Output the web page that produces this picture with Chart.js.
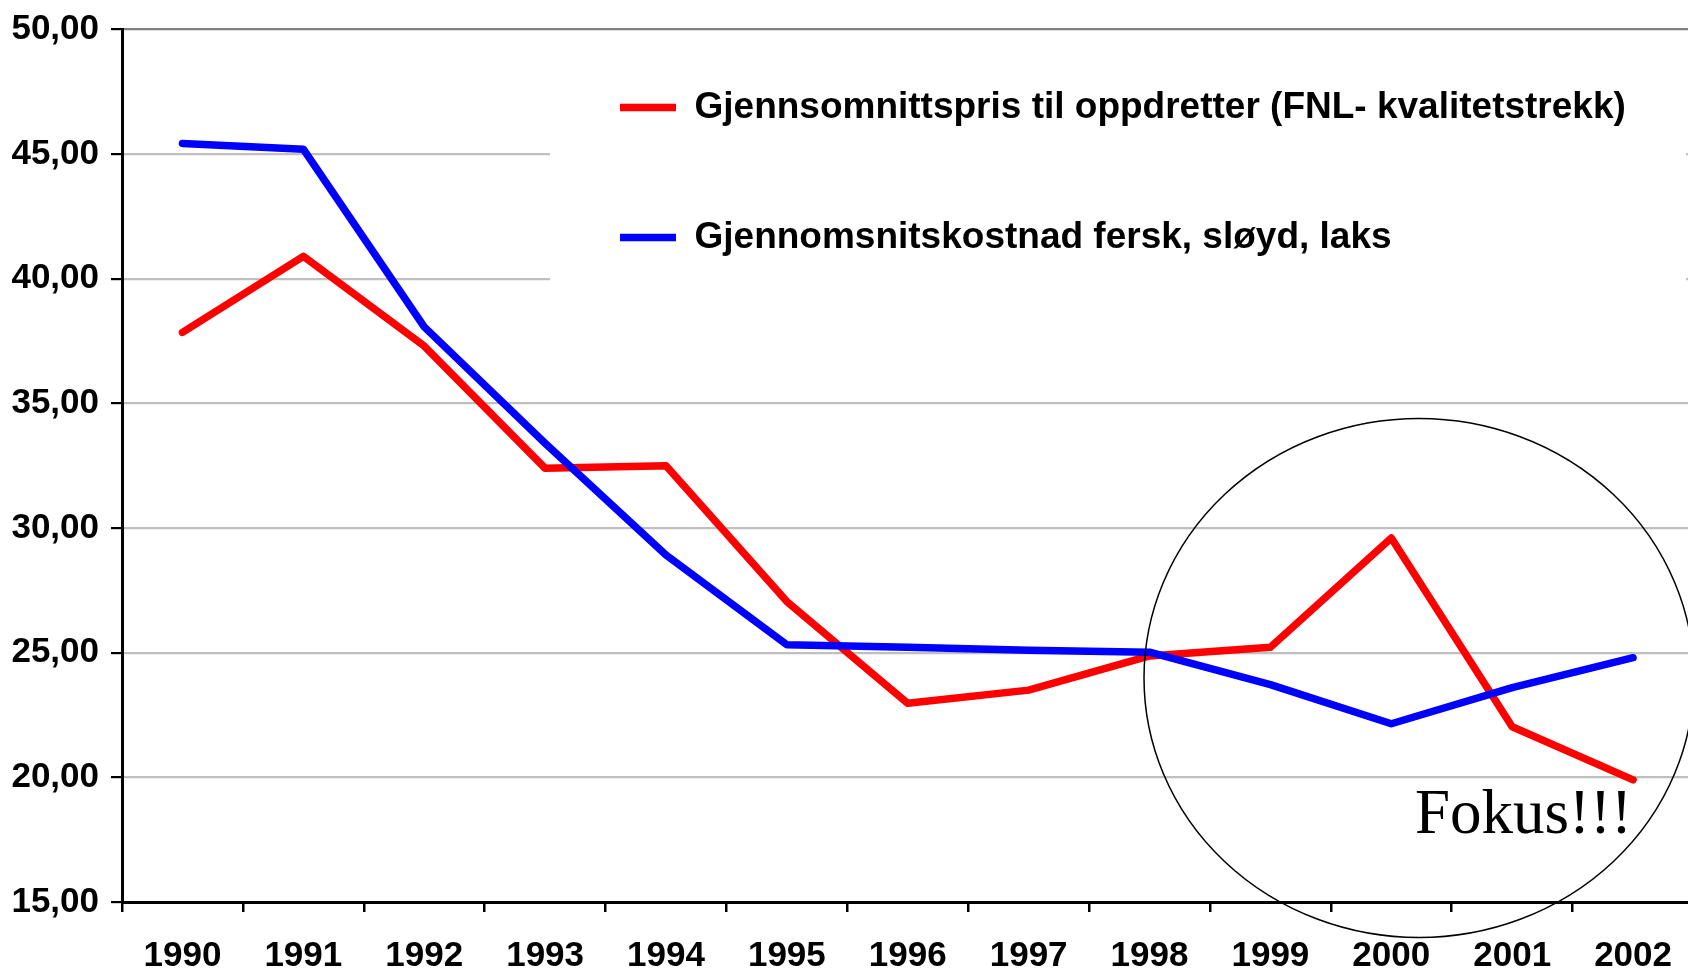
<!DOCTYPE html>
<html>
<head>
<meta charset="utf-8">
<script src="https://cdn.jsdelivr.net/npm/chart.js@4.4.1/dist/chart.umd.min.js"></script>
<style>
html,body{margin:0;padding:0;background:#fff;overflow:hidden;width:1688px;height:973px}
canvas{display:block}
</style>
</head>
<body>
<canvas id="c" width="1700" height="973"></canvas>
<script>
// ---- data ----
const years = ['1990','1991','1992','1993','1994','1995','1996','1997','1998','1999','2000','2001','2002'];
const priceSeries = [37.85, 40.9, 37.3, 32.4, 32.5, 27.05, 22.97, 23.5, 24.87, 25.22, 29.6, 22.03, 19.9];
const costSeries  = [45.43, 45.2, 38.07, 33.4, 28.92, 25.32, 25.22, 25.1, 25.02, 23.72, 22.15, 23.6, 24.8];
const seriesLabels = ['Gjennsomnittspris til oppdretter (FNL- kvalitetstrekk)', 'Gjennomsnitskostnad fersk, sløyd, laks'];
const yTickLabels = ['15,00','20,00','25,00','30,00','35,00','40,00','45,00','50,00'];
const annotationText = 'Fokus!!!';

Chart.defaults.font.family = '"Liberation Sans", Arial, Helvetica, sans-serif';
Chart.defaults.color = '#000';

const refPlugin = {
  id: 'refLayout',
  afterLayout(chart) {
    const lg = chart.legend;
    if (!lg) return;
    lg.left = 527; lg.top = -4; lg.width = 1160; lg.height = 400;
    lg.right = lg.left + lg.width; lg.bottom = lg.top + lg.height;
  },
  beforeDatasetsDraw(chart) {
    const ctx = chart.ctx;
    ctx.save();
    ctx.fillStyle = '#ffffff';
    ctx.fillRect(550, 45, 1136, 260);
    ctx.restore();
    if (chart.legend) chart.legend.draw();
  },
  afterDraw(chart) {
    const ctx = chart.ctx;
    ctx.save();
    ctx.beginPath();
    ctx.ellipse(1419, 678, 275, 259.5, 0, 0, Math.PI * 2);
    ctx.lineWidth = 1.5;
    ctx.strokeStyle = '#000';
    ctx.stroke();
    ctx.font = '63px "Liberation Serif", "Times New Roman", serif';
    ctx.fillStyle = '#000';
    ctx.textBaseline = 'alphabetic';
    ctx.textAlign = 'left';
    ctx.fillText(annotationText, 1415, 833);
    ctx.restore();
  }
};

new Chart(document.getElementById('c'), {
  type: 'line',
  data: {
    labels: years,
    datasets: [
      { label: seriesLabels[0], data: priceSeries, borderColor: '#ff0000', backgroundColor: '#ff0000',
        borderWidth: 7.5, pointRadius: 0, tension: 0, borderCapStyle: 'round', borderJoinStyle: 'round', order: 1 },
      { label: seriesLabels[1], data: costSeries, borderColor: '#0000ff', backgroundColor: '#0000ff',
        borderWidth: 7.5, pointRadius: 0, tension: 0, borderCapStyle: 'round', borderJoinStyle: 'round', order: 0 }
    ]
  },
  options: {
    responsive: false,
    animation: false,
    events: [],
    layout: { padding: { left: 0, right: 6.5, top: 29.5, bottom: 0 } },
    plugins: {
      tooltip: { enabled: false },
      legend: {
        display: true,
        position: 'chartArea',
        align: 'start',
        labels: {
          usePointStyle: true,
          pointStyle: 'line',
          pointStyleWidth: 56,
          padding: 93,
          color: '#000',
          font: { size: 37, weight: 'bold' },
          sort: (a, b) => a.datasetIndex - b.datasetIndex
        }
      }
    },
    scales: {
      x: {
        type: 'category',
        offset: true,
        grid: { display: true, drawOnChartArea: false, drawTicks: true, tickLength: 10, tickColor: '#000', lineWidth: 2.5, offset: true },
        border: { display: true, color: '#000', width: 3 },
        ticks: { font: { size: 35, weight: 'bold' }, color: '#000', padding: 23, maxRotation: 0, autoSkip: false },
        afterFit(scale) { scale.height = 71; scale.paddingLeft = 0; scale.paddingRight = 0; }
      },
      y: {
        min: 15,
        max: 50,
        grid: {
          color: (c) => (c.tick && c.tick.value === 50) ? '#808080' : '#bfbfbf',
          lineWidth: 2.2,
          tickColor: '#000',
          tickLength: 11,
          drawTicks: true
        },
        border: { display: true, color: '#000', width: 3 },
        ticks: {
          stepSize: 5,
          font: { size: 35, weight: 'bold' },
          color: '#000',
          padding: 12,
          callback: (value, index) => yTickLabels[index]
        },
        afterFit(scale) { scale.width = 122; scale.paddingTop = 0; scale.paddingBottom = 0; }
      }
    }
  },
  plugins: [refPlugin]
});
</script>
</body>
</html>
